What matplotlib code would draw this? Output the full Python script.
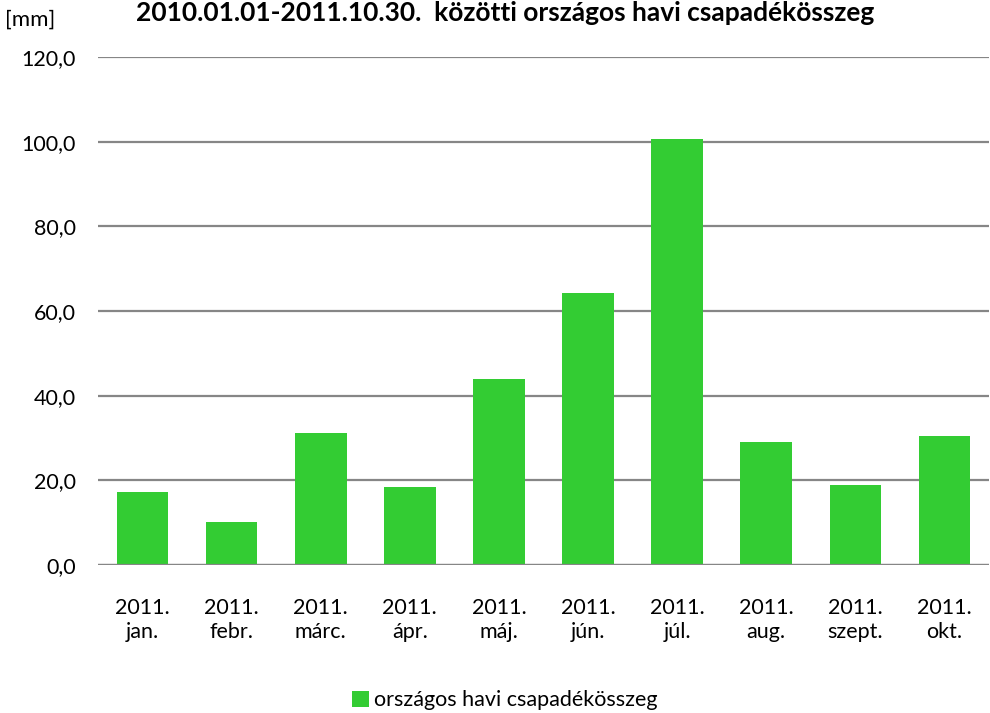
import numpy as np
import matplotlib.pyplot as plt
from matplotlib.ticker import FuncFormatter

plt.rcParams['font.family'] = ['Lato', 'DejaVu Sans']

# havi csapadékösszeg, mm
honapok = ['2011.\njan.', '2011.\nfebr.', '2011.\nmárc.', '2011.\nápr.', '2011.\nmáj.',
           '2011.\njún.', '2011.\njúl.', '2011.\naug.', '2011.\nszept.', '2011.\nokt.']
csapadek = [17.2, 10.2, 31.2, 18.4, 43.9, 64.3, 100.6, 29.1, 18.9, 30.5]
y_ticks = [0, 20, 40, 60, 80, 100, 120]

fig = plt.figure(figsize=(9.9, 7.13), dpi=100)
ax = fig.add_axes([0.099, 0.2076, 0.9, 0.7125])

x = np.arange(len(honapok))
ax.bar(x, csapadek, width=0.58, color='#33CC33', label='országos havi csapadékösszeg', zorder=3)

ax.set_xlim(-0.5, len(honapok) - 0.5)
ax.set_ylim(0, 120)
ax.set_yticks(y_ticks)
ax.yaxis.set_major_formatter(FuncFormatter(lambda v, p: f'{v:.1f}'.replace('.', ',')))
ax.set_xticks(x)
ax.set_xticklabels(honapok, fontsize=15.5, linespacing=1.25)
ax.tick_params(axis='y', labelsize=15.5, length=0, pad=16)
ax.tick_params(axis='x', length=0, pad=24)
ax.grid(axis='y', color='#868686', linewidth=1.6, zorder=0)
for s in ax.spines.values():
    s.set_visible(False)
ax.axhline(0, color='#868686', linewidth=1.6, zorder=4)

fig.text(0.005, 0.972, '[mm]', fontsize=16, ha='left', va='center')
fig.text(0.51, 0.998, '2010.01.01-2011.10.30.  közötti országos havi csapadékösszeg',
         fontsize=19, fontweight='bold', ha='center', va='top')

fig.legend(loc='center', bbox_to_anchor=(0.51, 0.018), frameon=False, fontsize=15.5,
           handlelength=0.75, handleheight=0.75, handletextpad=0.25)

fig.savefig('out.png', dpi=100)
